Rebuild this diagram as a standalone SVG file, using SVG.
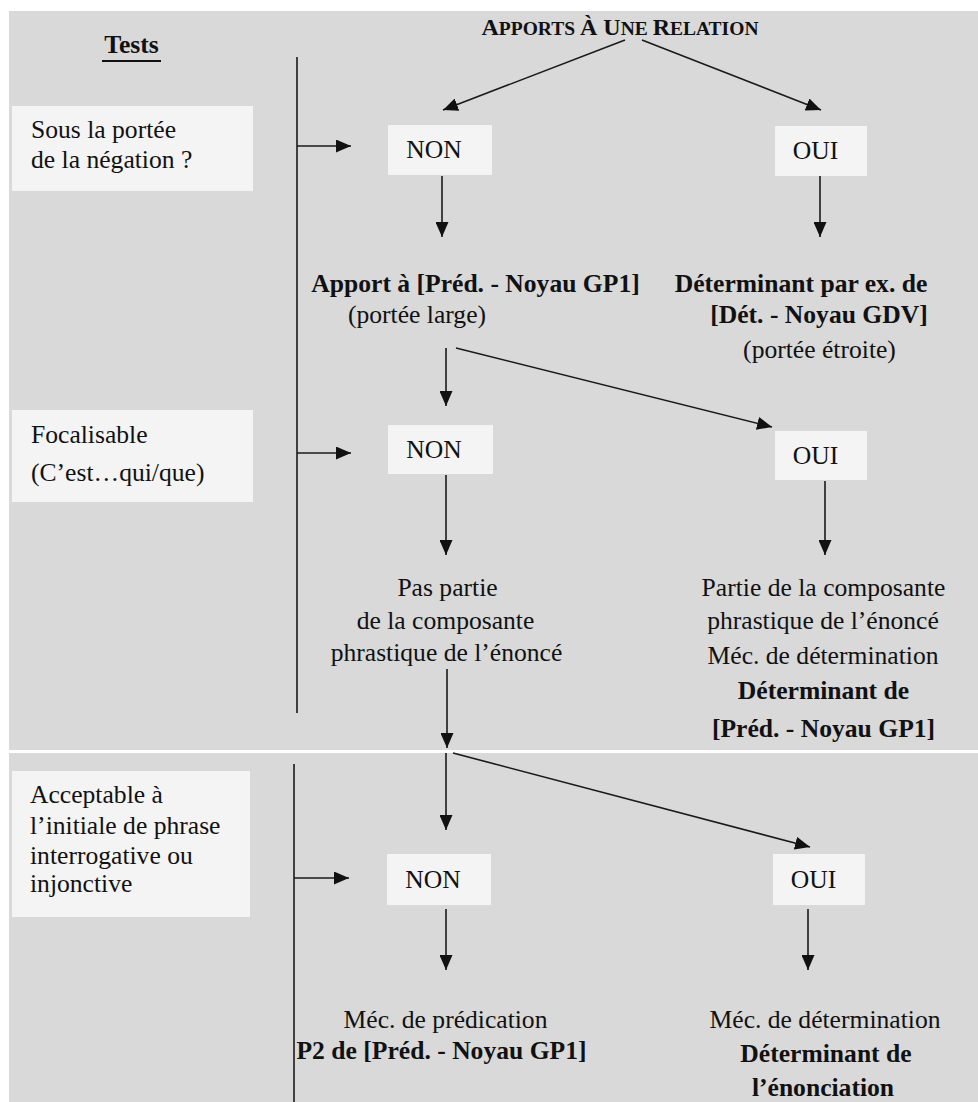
<svg xmlns="http://www.w3.org/2000/svg" width="978" height="1102" viewBox="0 0 978 1102">
<defs>
<marker id="ah" markerUnits="userSpaceOnUse" markerWidth="15" markerHeight="13" refX="15" refY="6.5" orient="auto">
<path d="M0,0 L15,6.5 L0,13 z" fill="#111"/>
</marker>
<style>
text{font-family:"Liberation Serif","Times New Roman",serif;font-size:25.6px;fill:#111}
.b{font-weight:bold}
.m{text-anchor:middle}
.box{fill:#f4f4f4}
.ln{stroke:#1a1a1a;stroke-width:1.6;fill:none}
.ar{stroke:#1a1a1a;stroke-width:1.6;fill:none;marker-end:url(#ah)}
</style>
</defs>
<rect x="0" y="0" width="978" height="1102" fill="#ffffff"/>
<rect x="9" y="11" width="969" height="1091" fill="#d9d9d9"/>
<rect x="9" y="750" width="969" height="3" fill="#ffffff"/>

<g id="title">
<text class="b m" x="620" y="35"><tspan font-size="24">A</tspan><tspan font-size="19.5">PPORTS </tspan><tspan font-size="24">À U</tspan><tspan font-size="19.5">NE </tspan><tspan font-size="24">R</tspan><tspan font-size="19.5">ELATION</tspan></text>
</g>
<g id="tests">
<text class="b m" x="131.5" y="53">Tests</text>
<line x1="102" y1="61" x2="161" y2="61" stroke="#111" stroke-width="2"/>
</g>

<g id="test1">
<rect class="box" x="12" y="106" width="241" height="85"/>
<text x="31" y="138">Sous la portée</text>
<text x="31" y="168">de la négation ?</text>
</g>
<g id="test2">
<rect class="box" x="12" y="410" width="241" height="92"/>
<text x="31" y="443">Focalisable</text>
<text x="31" y="481">(C’est…qui/que)</text>
</g>
<g id="test3">
<rect class="box" x="12" y="771" width="238" height="146"/>
<text x="30" y="803">Acceptable à</text>
<text x="30" y="834">l’initiale de phrase</text>
<text x="30" y="864">interrogative ou</text>
<text x="30" y="892">injonctive</text>
</g>

<g id="non1"><rect class="box" x="388" y="125" width="104" height="50"/><text class="m" x="434" y="158">NON</text></g>
<g id="oui1"><rect class="box" x="775" y="126" width="92" height="50"/><text class="m" x="815.5" y="159">OUI</text></g>
<g id="non2"><rect class="box" x="388" y="425" width="105" height="49"/><text class="m" x="434" y="458">NON</text></g>
<g id="oui2"><rect class="box" x="775" y="431" width="92" height="49"/><text class="m" x="815.5" y="464">OUI</text></g>
<g id="non3"><rect class="box" x="387" y="854" width="104" height="51"/><text class="m" x="433" y="888">NON</text></g>
<g id="oui3"><rect class="box" x="773" y="854" width="92" height="51"/><text class="m" x="813.5" y="888">OUI</text></g>

<g id="res1-non">
<text class="b m" x="475.5" y="292">Apport à [Préd. - Noyau GP1]</text>
<text class="m" x="417" y="323">(portée large)</text>
</g>
<g id="res1-oui">
<text class="b m" x="801" y="292">Déterminant par ex. de</text>
<text class="b m" x="819" y="323">[Dét. - Noyau GDV]</text>
<text class="m" x="819.5" y="358">(portée étroite)</text>
</g>
<g id="res2-non">
<text class="m" x="447.5" y="596">Pas partie</text>
<text class="m" x="445.5" y="629">de la composante</text>
<text class="m" x="446.5" y="661">phrastique de l’énoncé</text>
</g>
<g id="res2-oui">
<text class="m" x="823.5" y="596">Partie de la composante</text>
<text class="m" x="823" y="629">phrastique de l’énoncé</text>
<text class="m" x="823" y="664">Méc. de détermination</text>
<text class="b m" x="823.5" y="699">Déterminant de</text>
<text class="b m" x="823.5" y="737">[Préd. - Noyau GP1]</text>
</g>
<g id="res3-non">
<text class="m" x="445.5" y="1028">Méc. de prédication</text>
<text class="b m" x="441.5" y="1059">P2 de [Préd. - Noyau GP1]</text>
</g>
<g id="res3-oui">
<text class="m" x="825" y="1028">Méc. de détermination</text>
<text class="b m" x="826" y="1062">Déterminant de</text>
<text class="b m" x="823" y="1096">l’énonciation</text>
</g>

<g id="connectors">
<line class="ln" x1="297" y1="57" x2="297" y2="713"/>
<line class="ln" x1="294" y1="764" x2="294" y2="1102"/>
<line class="ar" x1="297" y1="146" x2="351" y2="146"/>
<line class="ar" x1="297" y1="453" x2="351" y2="453"/>
<line class="ar" x1="294" y1="878" x2="349" y2="878"/>
<line class="ar" x1="625" y1="40" x2="443" y2="110"/>
<line class="ar" x1="642" y1="40" x2="821" y2="110"/>
<line class="ar" x1="442" y1="176" x2="442" y2="237"/>
<line class="ar" x1="820" y1="176" x2="820" y2="237"/>
<line class="ar" x1="446" y1="348" x2="446" y2="406"/>
<line class="ar" x1="456" y1="348" x2="772" y2="427"/>
<line class="ar" x1="446" y1="475" x2="446" y2="555"/>
<line class="ar" x1="825" y1="481" x2="825" y2="555"/>
<line class="ar" x1="447" y1="669" x2="447" y2="748"/>
<line class="ar" x1="446" y1="753" x2="446" y2="830"/>
<line class="ar" x1="453" y1="753" x2="810" y2="847"/>
<line class="ar" x1="446" y1="909" x2="446" y2="970"/>
<line class="ar" x1="808" y1="909" x2="808" y2="970"/>
</g>
</svg>
